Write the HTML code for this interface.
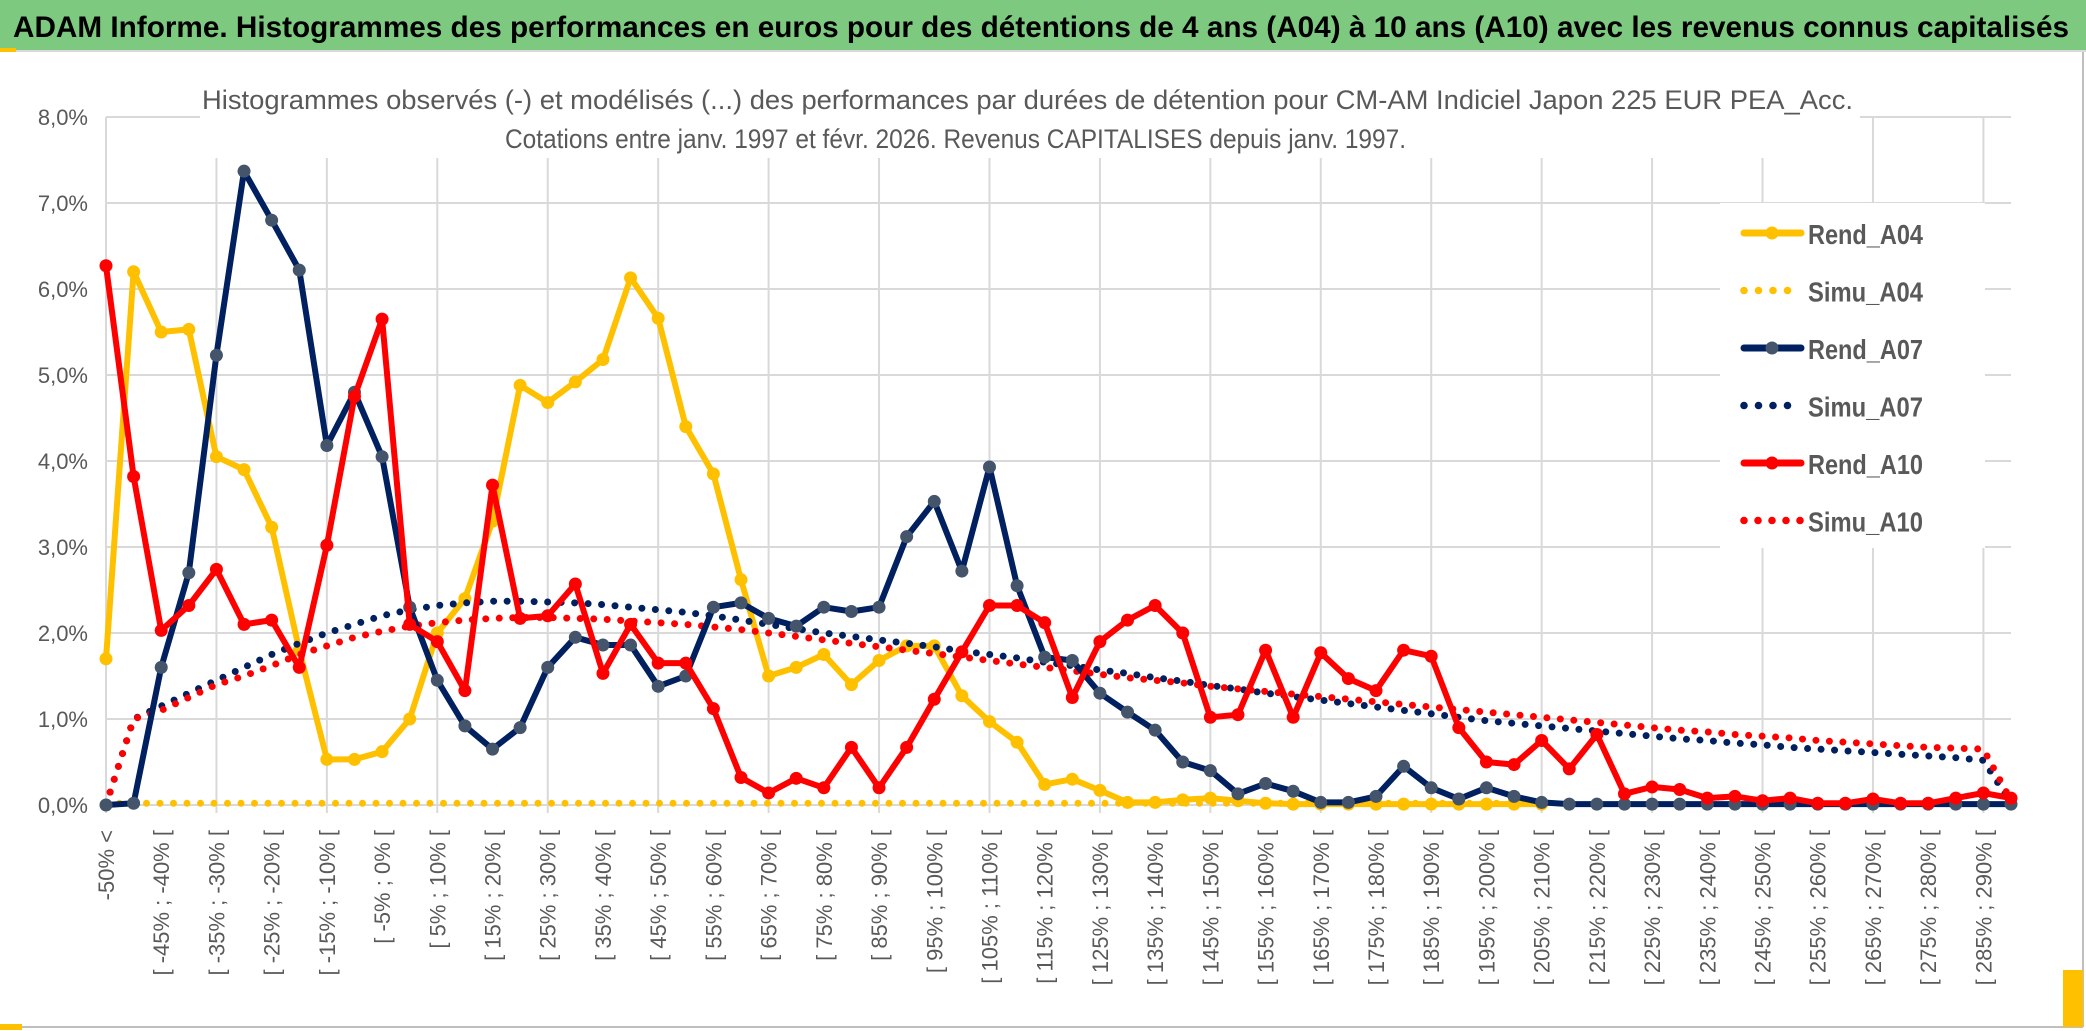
<!DOCTYPE html>
<html><head><meta charset="utf-8">
<style>
html,body{margin:0;padding:0;background:#fff;}
body{width:2086px;height:1031px;overflow:hidden;position:relative;font-family:"Liberation Sans",sans-serif;}
svg{position:absolute;left:0;top:0;}
</style></head>
<body>
<svg id="chart" width="2086" height="1031" viewBox="0 0 2086 1031" xmlns="http://www.w3.org/2000/svg">
  <rect x="0" y="0" width="2086" height="1031" fill="#fff"/>
  <rect x="0" y="0" width="2086" height="50" fill="#7dc97f"/>
  <line x1="0" y1="51" x2="2086" y2="51" stroke="#d9d9d9" stroke-width="2"/>
  <rect x="0" y="48" width="16" height="4" fill="#ffc000"/>
  <text x="13" y="37" font-size="30" font-weight="bold" fill="#000" textLength="2056" lengthAdjust="spacingAndGlyphs">ADAM Informe. Histogrammes des performances en euros pour des détentions de 4 ans (A04) à 10 ans (A10) avec les revenus connus capitalisés</text>
  <line x1="2083" y1="52" x2="2083" y2="1027" stroke="#bfbfbf" stroke-width="2"/>
  <line x1="0" y1="1027" x2="2083" y2="1027" stroke="#bfbfbf" stroke-width="2"/>
  <rect x="0" y="1024" width="22" height="6" fill="#ffc000"/>
  <rect x="2063" y="970" width="20" height="57" fill="#ffc000"/>
  <g id="grid"></g>
  <g id="yaxis"></g>
  <g id="xaxis"></g>
  <rect x="200" y="78" width="1660" height="80" fill="#fff"/>
  <text x="202" y="109" font-size="27" fill="#595959" textLength="1651" lengthAdjust="spacingAndGlyphs">Histogrammes observés (-) et modélisés (...) des performances par durées de détention pour CM-AM Indiciel Japon 225 EUR PEA_Acc.</text>
  <text x="505" y="148" font-size="27" fill="#595959" textLength="901" lengthAdjust="spacingAndGlyphs">Cotations entre janv. 1997 et févr. 2026. Revenus CAPITALISES depuis janv. 1997.</text>
  <g id="series"></g>
  <g id="legend"></g>
</svg>
<script>
const categories = (function(){ return null; })() || [];
const binStarts = [-50,-45,-40,-35,-30,-25,-20,-15,-10,-5,0,5,10,15,20,25,30,35,40,45,50,55,60,65,70,75,80,85,90,95,100,105,110,115,120,125,130,135,140,145,150,155,160,165,170,175,180,185,190,195,200,205,210,215,220,225,230,235,240,245,250,255,260,265,270,275,280,285,290];
const yTicks = [0,1,2,3,4,5,6,7,8];
const yTickLabels = ["0,0%","1,0%","2,0%","3,0%","4,0%","5,0%","6,0%","7,0%","8,0%"];
const rendA04 = [1.7,6.2,5.5,5.53,4.05,3.9,3.23,1.8,0.53,0.53,0.62,1.0,2.0,2.4,3.3,4.88,4.68,4.92,5.18,6.13,5.66,4.4,3.85,2.62,1.5,1.6,1.75,1.4,1.68,1.85,1.85,1.27,0.97,0.73,0.24,0.3,0.17,0.03,0.03,0.06,0.08,0.05,0.02,0.01,0.01,0.01,0.01,0.01,0.01,0.01,0.01,0.01,0.01];
const simuA04 = [0.02,0.02,0.02,0.02,0.02,0.02,0.02,0.02,0.02,0.02,0.02,0.02,0.02,0.02,0.02,0.02,0.02,0.02,0.02,0.02,0.02,0.02,0.02,0.02,0.02,0.02,0.02,0.02,0.02,0.02,0.02,0.02,0.02,0.02,0.02,0.02,0.02,0.02,0.02,0.02,0.02,0.02,0.02,0.02,0.02,0.02,0.02,0.02,0.02,0.02,0.02,0.02,0.02];
const rendA07 = [0,0.02,1.6,2.7,5.23,7.37,6.8,6.22,4.18,4.8,4.05,2.3,1.45,0.92,0.65,0.9,1.6,1.95,1.86,1.86,1.38,1.5,2.3,2.35,2.17,2.08,2.3,2.25,2.3,3.12,3.53,2.72,3.93,2.55,1.72,1.68,1.3,1.08,0.87,0.5,0.4,0.13,0.25,0.16,0.03,0.03,0.1,0.45,0.2,0.07,0.2,0.1,0.03,0.01,0.01,0.01,0.01,0.01,0.01,0.01,0.01,0.01,0.01,0.01,0.01,0.01,0.01,0.01,0.01,0.01];
const simuA07 = [0,1.0,1.15,1.3,1.45,1.6,1.75,1.88,2.0,2.1,2.2,2.27,2.32,2.35,2.37,2.37,2.36,2.35,2.33,2.3,2.27,2.24,2.2,2.15,2.1,2.05,2.0,1.96,1.92,1.88,1.84,1.79,1.75,1.71,1.66,1.62,1.57,1.53,1.48,1.44,1.39,1.35,1.3,1.26,1.22,1.18,1.14,1.1,1.06,1.02,0.98,0.95,0.92,0.89,0.86,0.83,0.8,0.77,0.75,0.72,0.7,0.67,0.65,0.63,0.61,0.59,0.57,0.55,0.52,0.02];
const rendA10 = [6.27,3.82,2.03,2.32,2.74,2.1,2.15,1.6,3.02,4.75,5.65,2.1,1.9,1.33,3.72,2.17,2.2,2.57,1.53,2.1,1.65,1.65,1.12,0.32,0.14,0.31,0.2,0.67,0.2,0.67,1.23,1.78,2.32,2.32,2.12,1.25,1.9,2.15,2.32,2.0,1.02,1.05,1.8,1.02,1.77,1.47,1.33,1.8,1.73,0.9,0.5,0.47,0.75,0.42,0.82,0.13,0.21,0.18,0.08,0.1,0.05,0.08,0.02,0.02,0.07,0.02,0.02,0.08,0.14,0.08];
const simuA10 = [0,1.0,1.1,1.25,1.4,1.5,1.62,1.75,1.85,1.95,2.02,2.08,2.12,2.15,2.17,2.18,2.18,2.17,2.16,2.14,2.12,2.1,2.07,2.04,2.0,1.96,1.92,1.88,1.84,1.8,1.76,1.72,1.68,1.64,1.6,1.56,1.52,1.48,1.45,1.42,1.38,1.35,1.32,1.29,1.26,1.23,1.2,1.17,1.14,1.11,1.08,1.05,1.02,0.99,0.96,0.93,0.9,0.87,0.85,0.82,0.8,0.78,0.75,0.73,0.71,0.69,0.67,0.66,0.65,0.05];
const seriesNames = ["Rend_A04","Simu_A04","Rend_A07","Simu_A07","Rend_A10","Simu_A10"];

// build category labels from bin starts
const catLabels = ["-50% <"];
for (let i = 1; i < binStarts.length; i++) {
  catLabels.push("[ " + binStarts[i-1] + "% ; " + binStarts[i] + "% [");
}
catLabels.push("> " + binStarts[binStarts.length-1] + "%");

const NS = "http://www.w3.org/2000/svg";
const X0 = 106, X1 = 2011, Y0 = 805, Y1 = 117;
const nCat = catLabels.length;
function xPos(i){ return X0 + i * (X1 - X0) / (nCat - 1); }
function yPos(v){ return Y0 - (v / 8) * (Y0 - Y1); }
function mk(tag, attrs, parent){
  const e = document.createElementNS(NS, tag);
  for (const k in attrs) e.setAttribute(k, attrs[k]);
  parent.appendChild(e);
  return e;
}

// gridlines
const grid = document.getElementById('grid');
yTicks.forEach(function(t){
  const l = mk('line', {x1:X0, x2:X1, y1:yPos(t), y2:yPos(t), stroke:'#d9d9d9', 'stroke-width':2}, grid);
  
  
});
for (let i = 0; i < nCat; i += 4) {
  const l = mk('line', {x1:xPos(i), x2:xPos(i), y1:Y1, y2:Y0 + 8, stroke:'#d9d9d9', 'stroke-width':2}, grid);
  
  
}

// y axis labels
const yaxis = document.getElementById('yaxis');
yTicks.forEach(function(t, k){
  const tx = mk('text', {x:88, y:yPos(t) + 8, 'font-size':22, fill:'#595959', 'text-anchor':'end'}, yaxis);
  tx.textContent = yTickLabels[k];
  
  
});

// x axis labels
const xaxis = document.getElementById('xaxis');
for (let i = 0; i < nCat; i += 2) {
  const x = xPos(i) + 8, y = 830;
  const tx = mk('text', {x:x, y:y, 'font-size':22, fill:'#595959', 'text-anchor':'end', transform:'rotate(-90 ' + x + ' ' + y + ')'}, xaxis);
  tx.textContent = catLabels[i];
  
  
}

// series
const sg = document.getElementById('series');
function pts(arr){ return arr.map(function(v,i){ return xPos(i).toFixed(1) + ',' + yPos(v).toFixed(1); }).join(' '); }
function dotted(arr, color, name){
  const p = mk('polyline', {points:pts(arr), fill:'none', stroke:color, 'stroke-width':7, 'stroke-linecap':'round', 'stroke-dasharray':'0 13.5'}, sg);
  
  
}
function solid(arr, color, mcolor, name){
  const p = mk('polyline', {points:pts(arr), fill:'none', stroke:color, 'stroke-width':6, 'stroke-linejoin':'round'}, sg);
  
  
  arr.forEach(function(v,i){
    const c = mk('circle', {cx:xPos(i), cy:yPos(v), r:6.5, fill:mcolor}, sg);
    
    
  });
}
dotted(simuA04, '#ffc000', 'simu-a04-line');
solid(rendA04, '#ffc000', '#ffc000', 'rend-a04-line');
dotted(simuA07, '#002060', 'simu-a07-line');
dotted(simuA10, '#ff0000', 'simu-a10-line');
solid(rendA07, '#002060', '#44546a', 'rend-a07-line');
solid(rendA10, '#ff0000', '#ff0000', 'rend-a10-line');

// legend
const lg = document.getElementById('legend');
const bg = mk('rect', {x:1720, y:203, width:265, height:345, fill:'#fff'}, lg);


const lcolors = ['#ffc000','#ffc000','#002060','#002060','#ff0000','#ff0000'];
const mcolors = ['#ffc000','#ffc000','#44546a','#002060','#ff0000','#ff0000'];
seriesNames.forEach(function(n, k){
  const y = 233 + k * 57.5;
  const g = mk('g', {}, lg);
  
  
  if (k % 2 === 0) {
    mk('line', {x1:1744, x2:1801, y1:y, y2:y, stroke:lcolors[k], 'stroke-width':7, 'stroke-linecap':'round'}, g);
    mk('circle', {cx:1772, cy:y, r:6.5, fill:mcolors[k]}, g);
  } else {
    const cnt = k === 5 ? 5 : 4;
    for (let j = 0; j < cnt; j++) mk('circle', {cx:1744 + j * (k === 5 ? 14 : 14.5), cy:y, r:3.8, fill:lcolors[k]}, g);
  }
  const t = mk('text', {x:1808, y:y + 11, 'font-size':28, fill:'#595959', 'font-weight':'bold', textLength:115, lengthAdjust:'spacingAndGlyphs'}, g);
  t.textContent = n;
});
</script>
</body></html>
